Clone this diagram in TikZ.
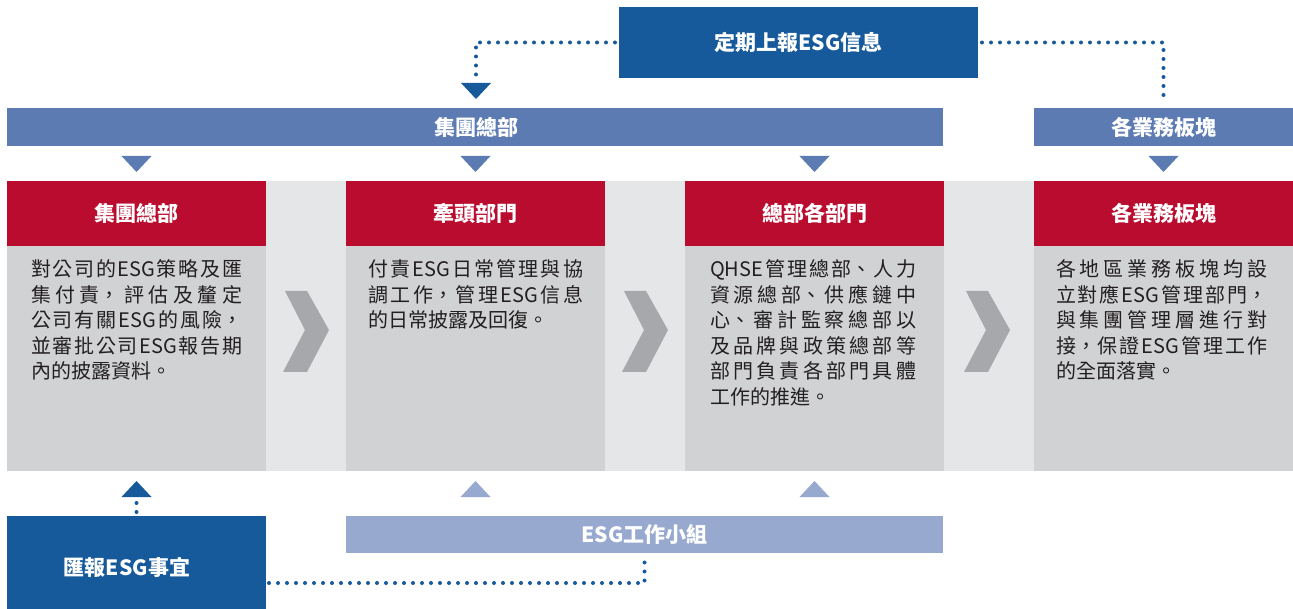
\documentclass[tikz,border=0pt]{standalone}
\usepackage{fontspec}
\setmainfont{Noto Sans CJK TC}
\XeTeXlinebreaklocale "zh"
\XeTeXlinebreakskip=0pt plus 1fil
\definecolor{dkblue}{HTML}{165A9C}
\definecolor{barblue}{HTML}{5B7BB2}
\definecolor{ltblue}{HTML}{98A9D0}
\definecolor{hdred}{HTML}{BA0C2F}
\definecolor{bodygray}{HTML}{D1D2D4}
\definecolor{bandgray}{HTML}{E5E6E8}
\definecolor{chevgray}{HTML}{A7A8AB}
\definecolor{txtgray}{HTML}{231F20}
\newcommand\lastfill{\hspace*{0pt plus 1fill}}
\tikzset{
  boxbase/.style={rectangle, inner sep=0pt, outer sep=0pt, text=white,
    font=\bfseries\fontsize{21pt}{24pt}\selectfont},
  header/.style={boxbase, fill=hdred, minimum width=259pt, minimum height=65pt},
  bodybox/.style={rectangle, inner sep=0pt, outer sep=0pt, fill=bodygray,
    minimum width=259pt, minimum height=225pt},
  bodytext/.style={anchor=north west, inner sep=0pt, outer sep=0pt, align=justify,
    text=txtgray, font=\fontsize{20pt}{25.5pt}\selectfont},
  dotline/.style={draw=dkblue, line width=4pt, line cap=round, dash pattern=on 0pt off 9pt},
  chev/.style={fill=chevgray},
}
\newcommand\tridown[3]{\fill[#3] (#1-15,#2) -- (#1+15,#2) -- (#1,#2+16) -- cycle;}
\newcommand\triup[3]{\fill[#3] (#1-15,#2+16) -- (#1+15,#2+16) -- (#1,#2) -- cycle;}
\newcommand\chevron[1]{\fill[chev] (#1+2,291) -- (#1+24,291) -- (#1+46,330) -- (#1+24,372) -- (#1,372) -- (#1+22,330) -- cycle;}
\begin{document}
\begin{tikzpicture}[x=1pt, y=-1pt]
\useasboundingbox (0,0) rectangle (1293,609);
% background band
\fill[bandgray] (266,181) rectangle (1034,471);
% top box
\node[boxbase, fill=dkblue, minimum width=359pt, minimum height=71pt] (top) at (798.5,42.5) {定期上報ESG信息};
% bars
\node[boxbase, fill=barblue, minimum width=936pt, minimum height=38pt] (bar1) at (475,127) {\hspace*{2pt}集團總部};
\node[boxbase, fill=barblue, minimum width=259pt, minimum height=38pt] (bar2) at (1163.5,127) {各業務板塊};
% headers
\node[header] (h1) at (136.5,213.5) {集團總部};
\node[header] (h2) at (475.5,213.5) {牽頭部門};
\node[header] (h3) at (814.5,213.5) {總部各部門};
\node[header] (h4) at (1163.5,213.5) {各業務板塊};
% bodies
\node[bodybox] (b1) at (136.5,358.5) {};
\node[bodybox] (b2) at (475.5,358.5) {};
\node[bodybox] (b3) at (814.5,358.5) {};
\node[bodybox] (b4) at (1163.5,358.5) {};
% body texts
\node[bodytext, text width=211pt] (t1) at (31,260) {對公司的ESG策略及匯\linebreak 集付責，評估及釐定\linebreak 公司有關ESG的風險，\linebreak 並審批公司ESG報告期\linebreak 內的披露資料。\lastfill};
\node[bodytext, text width=215pt] (t2) at (368,260) {付責ESG日常管理與協\linebreak 調工作，管理ESG信息\linebreak 的日常披露及回復。\lastfill};
\node[bodytext, text width=206pt] (t3) at (710,260) {QHSE管理總部、人力\linebreak 資源總部、供應鏈中\linebreak 心、審計監察總部以\linebreak 及品牌與政策總部等\linebreak 部門負責各部門具體\linebreak 工作的推進。\lastfill};
\node[bodytext, text width=211pt] (t4) at (1056,260) {各地區業務板塊均設\linebreak 立對應ESG管理部門，\linebreak 與集團管理層進行對\linebreak 接，保證ESG管理工作\linebreak 的全面落實。\lastfill};
% chevrons
\chevron{283}
\chevron{622}
\chevron{964}
% bottom boxes
\node[boxbase, fill=dkblue, minimum width=259pt, minimum height=93pt,
  label={[boxbase, xshift=-9.5pt, yshift=-4.5pt]center:匯報ESG事宜}] (hb) at (136.5,562.5) {};
\node[boxbase, fill=ltblue, minimum width=597pt, minimum height=37pt] (esg) at (644.5,534.5) {ESG工作小組};
% triangles
\tridown{476}{83}{dkblue}
\tridown{136.5}{156}{barblue}
\tridown{475.5}{156}{barblue}
\tridown{814.5}{156}{barblue}
\tridown{1163.5}{156}{barblue}
\triup{136.5}{481}{dkblue}
\triup{475.5}{481}{ltblue}
\triup{814.5}{481}{ltblue}
\coordinate (tA) at (476,77);
\coordinate (tB) at (136.5,502);
% connectors
\draw[dotline, shorten <=4pt] (top.west) -| (tA);
\draw[dotline, shorten <=4pt, shorten >=6pt] (top.east) -| (bar2.north);
\draw[dotline] ([yshift=-5pt]hb.north) -- (tB);
\draw[dotline, shorten <=3pt, shorten >=7pt] ([yshift=-20.5pt]hb.east) -| (esg.south);
\end{tikzpicture}
\end{document}
